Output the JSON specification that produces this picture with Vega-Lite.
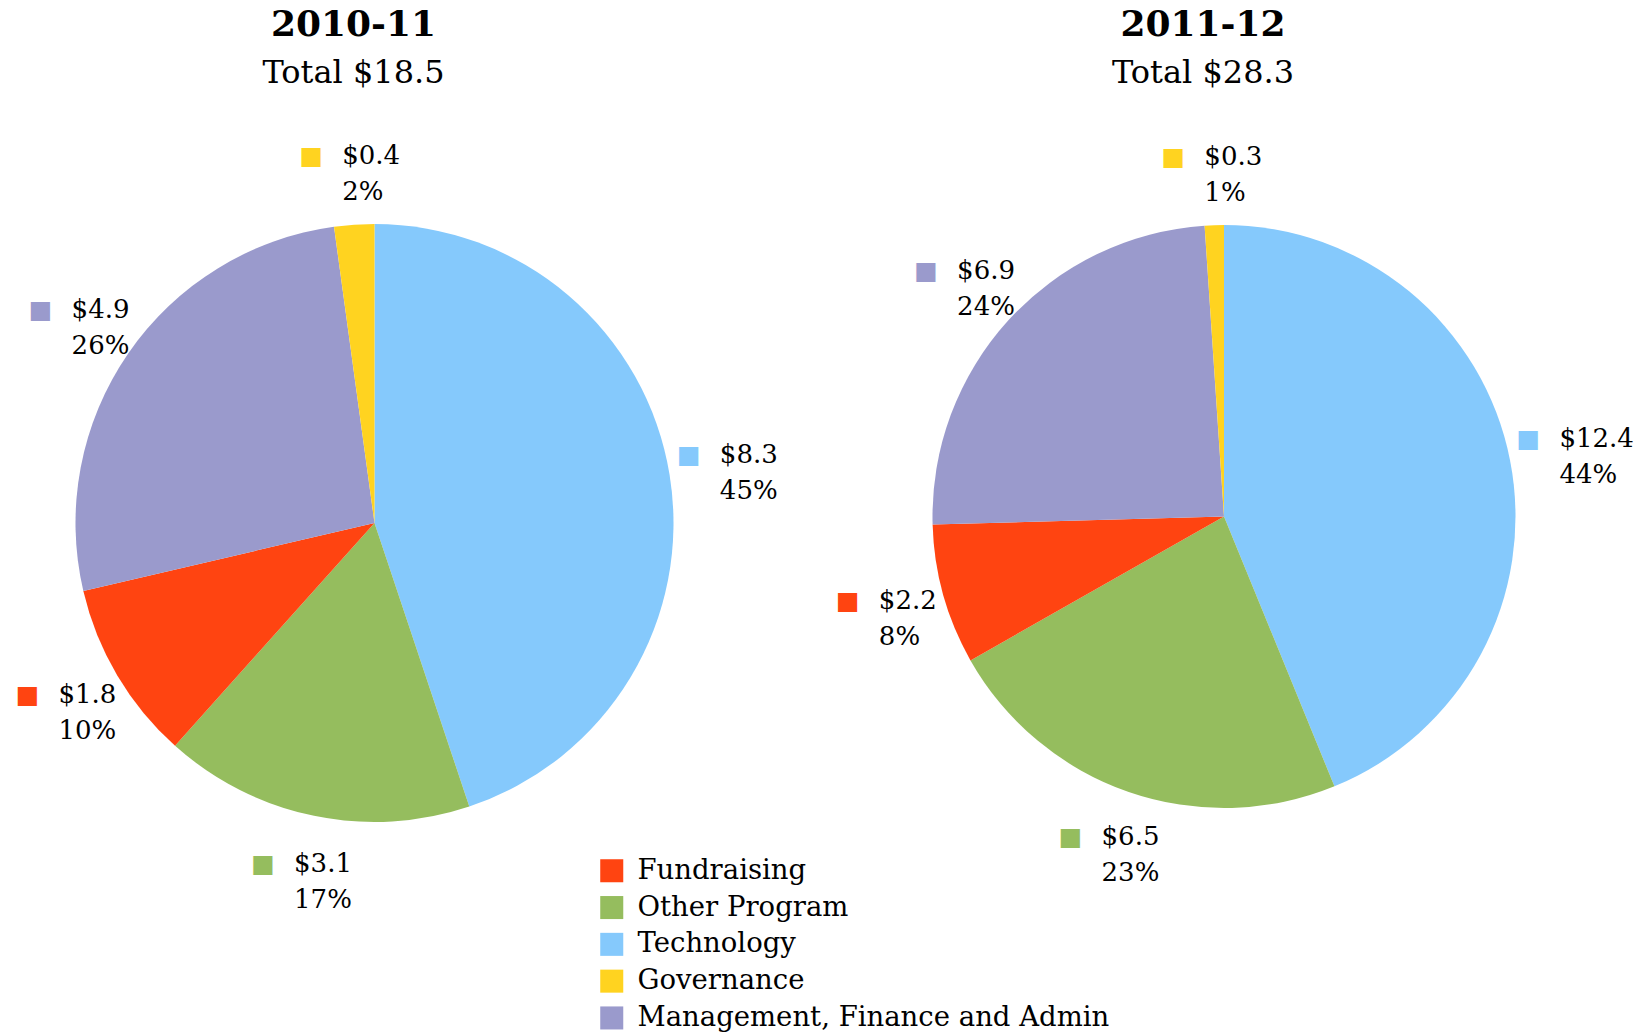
{
  "$schema": "https://vega.github.io/schema/vega-lite/v6.json",
  "background": "white",
  "padding": {"left": 0, "top": 7, "right": 0, "bottom": 0},
  "spacing": 0,
  "bounds": "flush",
  "config": {
    "view": {"stroke": null},
    "font": "DejaVu Serif",
    "title": {
      "font": "DejaVu Serif",
      "fontSize": 36,
      "fontWeight": "bold",
      "color": "black",
      "subtitleFont": "DejaVu Serif",
      "subtitleFontSize": 32,
      "subtitleColor": "black",
      "subtitlePadding": 14,
      "anchor": "middle",
      "dx": -21,
      "offset": 20
    },
    "text": {"font": "DejaVu Serif", "fontSize": 26, "color": "black"}
  },
  "datasets": {
    "spend": [
      {"year": "2010-11", "category": "Technology", "value": 8.3, "share": 0.45, "rank": 1},
      {"year": "2010-11", "category": "Other Program", "value": 3.1, "share": 0.17, "rank": 2},
      {"year": "2010-11", "category": "Fundraising", "value": 1.8, "share": 0.10, "rank": 3},
      {"year": "2010-11", "category": "Management, Finance and Admin", "value": 4.9, "share": 0.26, "rank": 4},
      {"year": "2010-11", "category": "Governance", "value": 0.4, "share": 0.02, "rank": 5},
      {"year": "2011-12", "category": "Technology", "value": 12.4, "share": 0.44, "rank": 1},
      {"year": "2011-12", "category": "Other Program", "value": 6.5, "share": 0.23, "rank": 2},
      {"year": "2011-12", "category": "Fundraising", "value": 2.2, "share": 0.08, "rank": 3},
      {"year": "2011-12", "category": "Management, Finance and Admin", "value": 6.9, "share": 0.24, "rank": 4},
      {"year": "2011-12", "category": "Governance", "value": 0.3, "share": 0.01, "rank": 5}
    ]
  },
  "data": {"name": "spend"},
  "hconcat": [
    {
      "width": 749,
      "height": 826,
      "title": {"text": "2010-11", "subtitle": "Total $18.5"},
      "transform": [{"filter": "datum.year === '2010-11'"}],
      "encoding": {
        "theta": {"field": "value", "type": "quantitative", "stack": true},
        "order": {"field": "rank", "type": "quantitative"}
      },
      "layer": [
        {
          "mark": {"type": "arc", "outerRadius": 299},
          "encoding": {
            "color": {
              "field": "category", "type": "nominal",
              "scale": {"domain": ["Fundraising", "Other Program", "Technology", "Governance", "Management, Finance and Admin"],
                        "range": ["#FF4411", "#95BD5E", "#85C9FC", "#FFD320", "#9A9ACC"]},
              "legend": {"title": null, "orient": "none", "legendX": 598, "legendY": 747, "symbolType": "square", "symbolSize": 530,
                         "symbolStrokeWidth": 0, "symbolOpacity": 1, "labelFont": "DejaVu Serif", "labelFontSize": 27.5, "labelColor": "black",
                         "labelOffset": 12, "rowPadding": 7.8, "padding": 0, "labelLimit": 600}
            }
          }
        },
        {
          "mark": {"type": "text", "radius": 358, "text": "■", "font": "DejaVu Sans", "fontSize": 25, "align": "center", "baseline": "middle", "dx": -39, "dy": -10},
          "encoding": {"color": {"field": "category", "type": "nominal"}}
        },
        {
          "mark": {"type": "text", "radius": 358, "align": "left", "baseline": "middle", "dx": -8, "dy": -10},
          "encoding": {"text": {"field": "value", "type": "quantitative", "format": "$.1f"}, "detail": {"field": "category"}}
        },
        {
          "mark": {"type": "text", "radius": 358, "align": "left", "baseline": "middle", "dx": -8, "dy": 26},
          "encoding": {"text": {"field": "share", "type": "quantitative", "format": ".0%"}, "detail": {"field": "category"}}
        }
      ]
    },
    {
      "width": 950,
      "height": 813,
      "title": {"text": "2011-12", "subtitle": "Total $28.3"},
      "transform": [{"filter": "datum.year === '2011-12'"}],
      "encoding": {
        "theta": {"field": "value", "type": "quantitative", "stack": true},
        "order": {"field": "rank", "type": "quantitative"}
      },
      "layer": [
        {
          "mark": {"type": "arc", "outerRadius": 291.5},
          "encoding": {
            "color": {
              "field": "category", "type": "nominal",
              "scale": {"domain": ["Fundraising", "Other Program", "Technology", "Governance", "Management, Finance and Admin"],
                        "range": ["#FF4411", "#95BD5E", "#85C9FC", "#FFD320", "#9A9ACC"]}
            }
          }
        },
        {
          "mark": {"type": "text", "radius": 350, "text": "■", "font": "DejaVu Sans", "fontSize": 25, "align": "center", "baseline": "middle", "dx": -39, "dy": -10},
          "encoding": {"color": {"field": "category", "type": "nominal"}}
        },
        {
          "mark": {"type": "text", "radius": 350, "align": "left", "baseline": "middle", "dx": -8, "dy": -10},
          "encoding": {"text": {"field": "value", "type": "quantitative", "format": "$.1f"}, "detail": {"field": "category"}}
        },
        {
          "mark": {"type": "text", "radius": 350, "align": "left", "baseline": "middle", "dx": -8, "dy": 26},
          "encoding": {"text": {"field": "share", "type": "quantitative", "format": ".0%"}, "detail": {"field": "category"}}
        }
      ]
    }
  ]
}
